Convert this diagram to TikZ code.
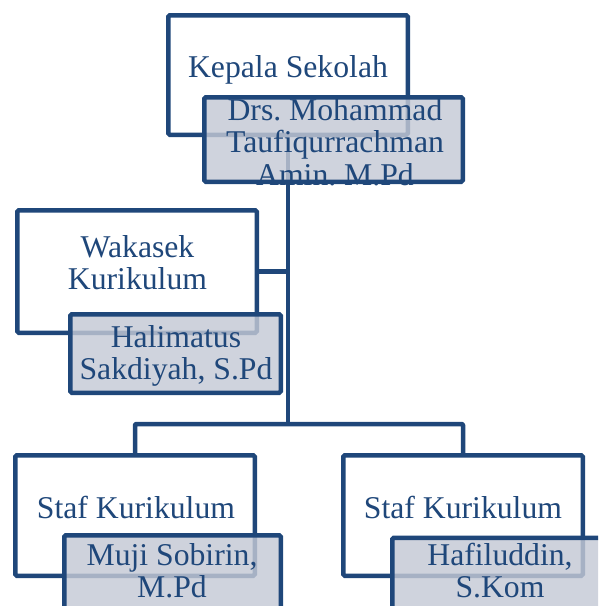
\documentclass[tikz,border=0pt]{standalone}
\usepackage{fontspec}
\setmainfont{Liberation Serif}
\frenchspacing
\definecolor{navy}{RGB}{31,71,122}
\definecolor{namefill}{RGB}{196,201,213}
\tikzset{
  conn/.style={draw=navy, line width=4.5pt, line join=round, rounded corners=1pt},
  rolebox/.style={draw=navy, fill=white, line width=4.5pt, rounded corners=1.5pt, inner sep=0pt},
  namebox/.style={draw=navy, fill=namefill, fill opacity=0.82, draw opacity=1, line width=4.5pt, rounded corners=1.5pt, inner sep=0pt},
  lbl/.style={text=navy, inner sep=0pt, anchor=base, font=\fontsize{31.7}{32.5}\selectfont\frenchspacing},
}
\newcommand{\lines}[1]{\begin{tabular}[t]{@{}c@{}}#1\end{tabular}}
\begin{document}
\begin{tikzpicture}[x=1pt,y=-1pt]
\useasboundingbox (0,0) rectangle (598,606);
\clip (0,0) rectangle (598,606);
% boxes geometry (nodes)
\node[rolebox, minimum width=239.5pt, minimum height=119.5pt, draw=none, fill=none] (K) at (288,75) {};
\node[rolebox, minimum width=239.5pt, minimum height=122.5pt, draw=none, fill=none] (W) at (137,271.5) {};
\node[rolebox, minimum width=239.5pt, minimum height=120.5pt, draw=none, fill=none] (S1) at (135,515.5) {};
\node[rolebox, minimum width=239.5pt, minimum height=120.5pt, draw=none, fill=none] (S2) at (463,515.5) {};
\coordinate (J) at (288,424);
% connectors
\draw[conn] (K.south) -- (K.south |- J);
\draw[conn] (W.east) -- (W.east -| K.south);
\draw[conn] (S1.north) -- (S1.north |- J) -- (S2.north |- J) -- (S2.north);
% top
\node[rolebox, minimum width=239.5pt, minimum height=119.5pt] (Kb) at (K) {};
\node[lbl] (Kt) at (288,77) {Kepala Sekolah};
\node[namebox, minimum width=258.5pt, minimum height=84.5pt] (N1) at (333.5,139.5) {};
\node[lbl] (N1t) at (335,120) {\lines{Drs. Mohammad\\Taufiqurrachman\\Amin. M.Pd}};
% wakasek
\node[rolebox, minimum width=239.5pt, minimum height=122.5pt] (Wb) at (W) {};
\node[lbl] (Wt) at (137.5,257) {\lines{Wakasek\\Kurikulum}};
\node[namebox, minimum width=210.5pt, minimum height=78.5pt] (N2) at (175.5,353.5) {};
\node[lbl] (N2t) at (176,347) {\lines{Halimatus\\Sakdiyah, S.Pd}};
% staff left
\node[rolebox, minimum width=239.5pt, minimum height=120.5pt] (S1b) at (S1) {};
\node[lbl] (S1t) at (136,518) {Staf Kurikulum};
\node[namebox, minimum width=216.5pt, minimum height=80.5pt] (N3) at (172.5,575.5) {};
\node[lbl] (N3t) at (172,565) {\lines{Muji Sobirin,\\M.Pd}};
% staff right
\node[rolebox, minimum width=239.5pt, minimum height=120.5pt] (S2b) at (S2) {};
\node[lbl] (S2t) at (463,518) {Staf Kurikulum};
\node[namebox, minimum width=216.5pt, minimum height=80.5pt] (N4) at (500.5,578) {};
\node[lbl] (N4t) at (500,565) {\lines{Hafiluddin,\\S.Kom}};
\end{tikzpicture}
\end{document}
